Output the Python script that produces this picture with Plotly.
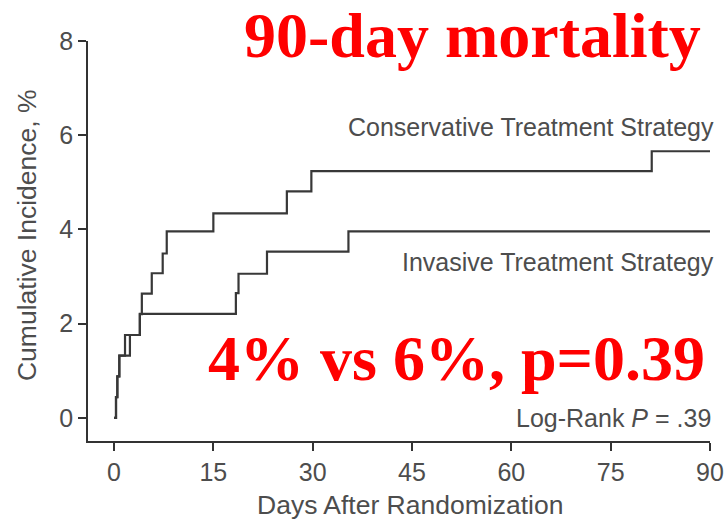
import plotly.graph_objects as go

# Cumulative incidence step curves (day of step, cumulative % after step)
cons_days = [0, 0.3, 0.5, 0.8, 1.66, 3.9, 4.2, 5.7, 7.35, 7.96, 15.0, 26.1, 29.8, 81.2, 90]
cons_pct = [0, 0.44, 0.88, 1.32, 1.76, 2.20, 2.64, 3.07, 3.49, 3.96, 4.34, 4.81, 5.24, 5.66, 5.66]

inv_days = [0, 0.3, 0.5, 0.8, 2.4, 3.9, 18.4, 18.8, 23.1, 35.4, 90]
inv_pct = [0, 0.44, 0.88, 1.32, 1.76, 2.21, 2.65, 3.06, 3.53, 3.96, 3.96]

x_ticks = [0, 15, 30, 45, 60, 75, 90]
y_ticks = [0, 2, 4, 6, 8]

line_color = "#383838"
axis_color = "#333333"
text_color = "#4d4d4d"
sans = "Liberation Sans, Arial, sans-serif"
serif = "Liberation Serif, Times New Roman, serif"

fig = go.Figure()
fig.add_trace(go.Scatter(x=cons_days, y=cons_pct, mode="lines",
                         line=dict(shape="hv", color=line_color, width=2.2),
                         name="Conservative Treatment Strategy", showlegend=False))
fig.add_trace(go.Scatter(x=inv_days, y=inv_pct, mode="lines",
                         line=dict(shape="hv", color=line_color, width=2.2),
                         name="Invasive Treatment Strategy", showlegend=False))

annotations = [
    dict(text="Conservative Treatment Strategy", x=1.0096, y=0.785,
         xanchor="right", yanchor="middle", font=dict(size=25, color=text_color, family=sans)),
    dict(text="Invasive Treatment Strategy", x=1.0096, y=0.4475,
         xanchor="right", yanchor="middle", font=dict(size=25, color=text_color, family=sans)),
    dict(text="Log-Rank <i>P</i> = .39", x=1.005, y=0.0575,
         xanchor="right", yanchor="middle", font=dict(size=25, color=text_color, family=sans)),
    dict(text="<b>90-day mortality</b>", x=0.988, y=1.015,
         xanchor="right", yanchor="middle", font=dict(size=64, color="#ff0000", family=serif)),
    dict(text="<b>4% vs 6%, p=0.39</b>", x=0.592, y=0.2075,
         xanchor="center", yanchor="middle", font=dict(size=64, color="#ff0000", family=serif)),
    dict(text="Days After Randomization", x=0.5177, y=-0.16,
         xanchor="center", yanchor="middle", font=dict(size=26.5, color=text_color, family=sans)),
    dict(text="Cumulative Incidence, %", x=-0.098, y=0.515, textangle=-90,
         xanchor="center", yanchor="middle", font=dict(size=26.5, color=text_color, family=sans)),
]
for a in annotations:
    a.update(xref="paper", yref="paper", showarrow=False)

fig.update_layout(
    width=727, height=521,
    margin=dict(l=88, r=17, t=41, b=80, autoexpand=False),
    paper_bgcolor="white", plot_bgcolor="white",
    annotations=annotations,
    xaxis=dict(range=[-3.93, 90], tickvals=x_ticks, ticks="outside", ticklen=8,
               tickwidth=1.8, tickcolor=axis_color, showline=True, linecolor=axis_color,
               linewidth=1.8, showgrid=False, zeroline=False, automargin=False,
               tickfont=dict(size=25, color=text_color, family=sans)),
    yaxis=dict(range=[-0.49, 8], tickvals=y_ticks, ticks="outside", ticklen=8,
               tickwidth=1.8, tickcolor=axis_color, showline=True, linecolor=axis_color,
               linewidth=1.8, showgrid=False, zeroline=False, automargin=False,
               tickfont=dict(size=25, color=text_color, family=sans)),
)

fig.write_html("out.html")
